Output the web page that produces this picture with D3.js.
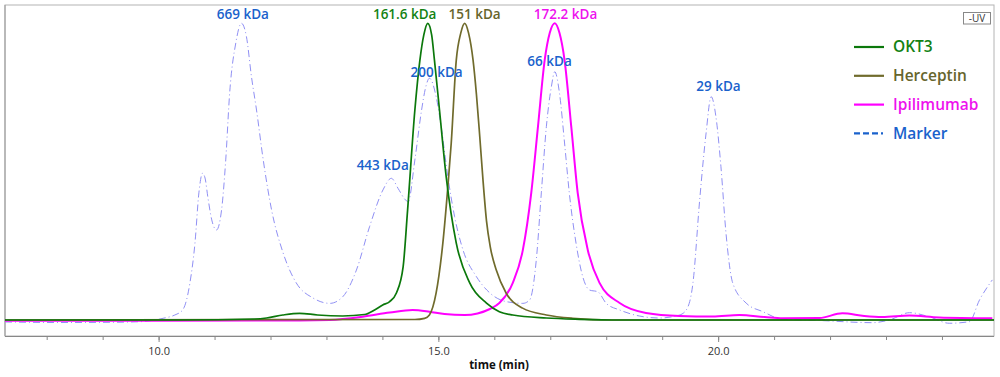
<!doctype html>
<html lang="en">
    <head>
        <meta charset="utf-8">
        <title>SEC chromatogram</title>
        <script type="text/javascript" src="https://cdn.jsdelivr.net/npm/d3@7"></script>
        <style>
            body { margin: 0; background: #fff; }
            text { font-family: "Open Sans", "Noto Sans", sans-serif; }
        </style>
    </head>
    <body>
        <script type="text/javascript">

            // traces: [time (min), absorbance (rel. units)]
            var okt3 = [[7.255, 0], [10.38, 0], [11.72, 0.34], [11.93, 0.67], [12.22, 1.68], [12.52, 2.26],
                        [12.84, 1.68], [13.29, 1.35], [13.68, 1.85], [13.86, 3.4], [14.005, 5.05], [14.13, 6.2],
                        [14.25, 9.1], [14.37, 17.9], [14.45, 37.0], [14.58, 70.7], [14.67, 87.5], [14.74, 96.0],
                        [14.81, 99.9], [14.88, 96.0], [14.93, 87.5], [15.02, 70.7], [15.14, 48.2], [15.32, 25.9],
                        [15.56, 12.5], [15.86, 5.7], [16.09, 2.8], [16.33, 1.68], [16.93, 0.67], [17.52, 0.24],
                        [18.24, 0], [24.93, 0]];

            var herceptin = [[7.255, 0], [14.58, 0.17], [14.755, 0.57], [14.84, 1.68], [14.96, 9.1], [15.08, 25.9],
                             [15.17, 44.9], [15.23, 59.6], [15.32, 87.5], [15.40, 96.6], [15.47, 99.9], [15.54, 96.6],
                             [15.62, 87.5], [15.68, 76.0], [15.74, 61.7], [15.80, 46.5], [15.86, 33.4], [15.93, 24.4],
                             [16.035, 16.8], [16.21, 9.1], [16.505, 4.0], [16.93, 1.68], [17.40, 0.57], [18.11, 0],
                             [24.93, 0]];

            var ipilimumab = [[7.255, -0.24], [12.52, -0.17], [13.06, 0], [13.65, 1.11], [14.13, 2.5], [14.54, 3.37],
                              [14.84, 2.8], [15.11, 2.0], [15.47, 1.68], [15.70, 2.2], [15.92, 3.7], [16.09, 5.7],
                              [16.33, 12.5], [16.51, 23.6], [16.66, 42.8], [16.78, 65.1], [16.90, 87.5], [16.99, 96.6],
                              [17.08, 99.9], [17.165, 96.6], [17.255, 87.5], [17.375, 65.1], [17.49, 42.8], [17.67, 23.6],
                              [17.88, 12.5], [18.24, 5.7], [18.71, 2.36], [19.31, 1.35], [19.90, 1.18], [20.38, 1.68],
                              [20.83, 1.0], [21.15, 0.57], [21.81, 0.67], [22.22, 2.26], [22.61, 1.35], [22.93, 1.0],
                              [23.42, 1.5], [23.95, 0.84], [24.90, 0.57]];

            var marker = [[7.255, -0.67], [8.24, -0.84], [9.13, -0.77], [9.666, -0.57], [10.08, 0.57], [10.29, 1.68],
                          [10.43, 3.37], [10.56, 12.5], [10.65, 25.9], [10.72, 42.8], [10.785, 49.4], [10.83, 47.8],
                          [10.88, 41.4], [10.95, 33.7], [11.035, 30.3], [11.125, 37.0], [11.20, 53.9], [11.27, 76.4],
                          [11.38, 93.3], [11.48, 99.9], [11.57, 95.4], [11.66, 81.9], [11.75, 70.7], [11.87, 53.9],
                          [12.02, 37.0], [12.225, 22.6], [12.46, 12.5], [12.76, 7.4], [13.06, 5.6], [13.29, 7.8],
                          [13.535, 16.8], [13.77, 31.4], [14.01, 43.8], [14.16, 47.7], [14.28, 44.3], [14.40, 40.7],
                          [14.46, 39.8], [14.58, 53.9], [14.70, 70.7], [14.77, 78.1], [14.84, 81.4], [14.96, 75.2],
                          [15.05, 65.1], [15.17, 48.2], [15.29, 34.8], [15.44, 23.6], [15.68, 14.6], [15.92, 9.1],
                          [16.21, 6.2], [16.51, 5.6], [16.63, 6.7], [16.75, 20.2], [16.84, 42.8], [16.93, 65.1],
                          [17.02, 78.6], [17.08, 83.6], [17.165, 76.3], [17.255, 59.6], [17.34, 42.8], [17.46, 25.9],
                          [17.58, 14.6], [17.70, 10.1], [17.85, 9.5], [18.00, 5.6], [18.24, 3.37], [18.59, 1.35],
                          [18.95, 0.67], [19.31, 1.68], [19.43, 3.37], [19.55, 12.5], [19.67, 40.4], [19.785, 63.0],
                          [19.875, 75.2], [19.96, 68.5], [20.05, 51.6], [20.14, 29.3], [20.26, 12.5], [20.50, 5.7],
                          [20.80, 2.8], [21.15, 0.24], [21.81, -0.17], [22.755, -0.9], [23.06, 0], [23.42, 2.46],
                          [23.77, 1.1], [24.13, -1.1], [24.49, -0.57], [24.67, 6.7], [24.90, 13.5]];

            var seriesNames = ["OKT3", "Herceptin", "Ipilimumab", "Marker"];

            // peak annotations: text, series, time, absorbance where the label sits
            var peakLabels = [
                ["669 kDa", "Marker", 11.505, 103.0],
                ["161.6 kDa", "OKT3", 14.398, 103.0],
                ["151 kDa", "Herceptin", 15.648, 103.0],
                ["172.2 kDa", "Ipilimumab", 17.273, 103.0],
                ["200 kDa", "Marker", 14.969, 83.5],
                ["443 kDa", "Marker", 14.005, 52.0],
                ["66 kDa", "Marker", 16.987, 87.2],
                ["29 kDa", "Marker", 20.005, 78.6]
            ];

            var minorTicks = d3.range(8, 25, 1);
            var majorTicks = [10, 15, 20];

            var svgW = 1000;
            var svgH = 377;
            var plot = {left: 5, right: 994, top: 5, bottom: 336};

            var lineColor = {OKT3: "#0b780b", Herceptin: "#706b2c", Ipilimumab: "#ff00ff", Marker: "#9090f4"};
            var textColor = {OKT3: "#138213", Herceptin: "#66652c", Ipilimumab: "#ee11ee", Marker: "#1a62cc"};

            var x = d3.scaleLinear()
                      .domain([7.255, 24.93])
                      .range([plot.left, plot.right]);

            var y = d3.scaleLinear()
                      .domain([-5.39, 106.06])
                      .range([plot.bottom, plot.top]);

            var line = d3.line()
                         .x(d => x(d[0]))
                         .y(d => y(d[1]))
                         .curve(d3.curveMonotoneX);

            var svg = d3.select("body")
                        .append("svg")
                        .attr("width", svgW)
                        .attr("height", svgH);

            // frame
            svg.append("rect")
               .attr("x", plot.left)
               .attr("y", plot.top)
               .attr("width", plot.right - plot.left)
               .attr("height", plot.bottom - plot.top)
               .attr("fill", "none")
               .attr("stroke", "#b4b4b4")
               .attr("stroke-width", 1);
            svg.append("line")
               .attr("x1", plot.left).attr("x2", plot.left)
               .attr("y1", plot.top).attr("y2", plot.bottom)
               .attr("stroke", "#999");

            // traces, marker at the back, OKT3 on top
            var traces = [["Marker", marker], ["Ipilimumab", ipilimumab], ["Herceptin", herceptin], ["OKT3", okt3]];
            svg.append("g")
               .selectAll("path")
               .data(traces)
               .enter()
               .append("path")
               .attr("d", d => line(d[1]))
               .attr("fill", "none")
               .attr("stroke", d => lineColor[d[0]])
               .attr("stroke-width", d => d[0] == "Marker" ? 1 : (d[0] == "Ipilimumab" ? 2 : 1.7))
               .attr("stroke-dasharray", d => d[0] == "Marker" ? "7,3,1,3" : null)
               .attr("stroke-linejoin", "round");

            // x axis
            var minorAxis = d3.axisBottom(x)
                              .tickValues(minorTicks)
                              .tickSize(4)
                              .tickFormat("");
            var majorAxis = d3.axisBottom(x)
                              .tickValues(majorTicks)
                              .tickSize(6)
                              .tickPadding(5)
                              .tickFormat(d3.format(".1f"));

            var gMinor = svg.append("g")
                            .attr("transform", "translate(0," + plot.bottom + ")")
                            .call(minorAxis);
            gMinor.select(".domain")
                  .attr("stroke", "#888")
                  .attr("d", "M" + plot.left + ",0.5H" + plot.right);
            gMinor.selectAll(".tick line").attr("stroke", "#888");

            var gMajor = svg.append("g")
                            .attr("transform", "translate(0," + plot.bottom + ")")
                            .call(majorAxis);
            gMajor.select(".domain").remove();
            gMajor.selectAll(".tick line").attr("stroke", "#888");
            gMajor.selectAll(".tick text")
                  .attr("fill", "#333")
                  .style("font-size", "11px")
                  .style("font-family", "'Open Sans', sans-serif");

            svg.append("text")
               .attr("x", 499)
               .attr("y", 369)
               .attr("text-anchor", "middle")
               .style("font-size", "11.5px")
               .style("font-weight", "bold")
               .attr("fill", "#111")
               .text("time (min)");

            // peak labels
            svg.append("g")
               .selectAll("text")
               .data(peakLabels)
               .enter()
               .append("text")
               .attr("x", d => x(d[2]))
               .attr("y", d => y(d[3]))
               .attr("dy", "0.35em")
               .attr("text-anchor", "middle")
               .attr("fill", d => textColor[d[1]])
               .style("font-size", "13.5px")
               .style("font-weight", 600)
               .text(d => d[0]);

            // legend
            var legend = svg.append("g")
                            .selectAll("g")
                            .data(seriesNames)
                            .enter()
                            .append("g")
                            .attr("transform", (d, i) => "translate(854," + (47 + i * 28.8) + ")");
            legend.append("line")
                  .attr("x1", 0)
                  .attr("x2", 30)
                  .attr("stroke", d => d == "Marker" ? textColor[d] : lineColor[d])
                  .attr("stroke-width", 2.2)
                  .attr("stroke-dasharray", d => d == "Marker" ? "6,3,6,3,6,3,2,30" : null);
            legend.append("text")
                  .attr("x", 39)
                  .attr("dy", "0.35em")
                  .attr("fill", d => textColor[d])
                  .style("font-size", "15.5px")
                  .style("font-weight", 600)
                  .text(d => d);

            // UV box
            svg.append("rect")
               .attr("x", 963.5)
               .attr("y", 12.5)
               .attr("width", 27)
               .attr("height", 11.5)
               .attr("fill", "#fff")
               .attr("stroke", "#888");
            svg.append("text")
               .attr("x", 977)
               .attr("y", 18.5)
               .attr("dy", "0.35em")
               .attr("text-anchor", "middle")
               .attr("fill", "#333")
               .style("font-size", "10px")
               .text("-UV");
        </script>
    </body>
</html>
